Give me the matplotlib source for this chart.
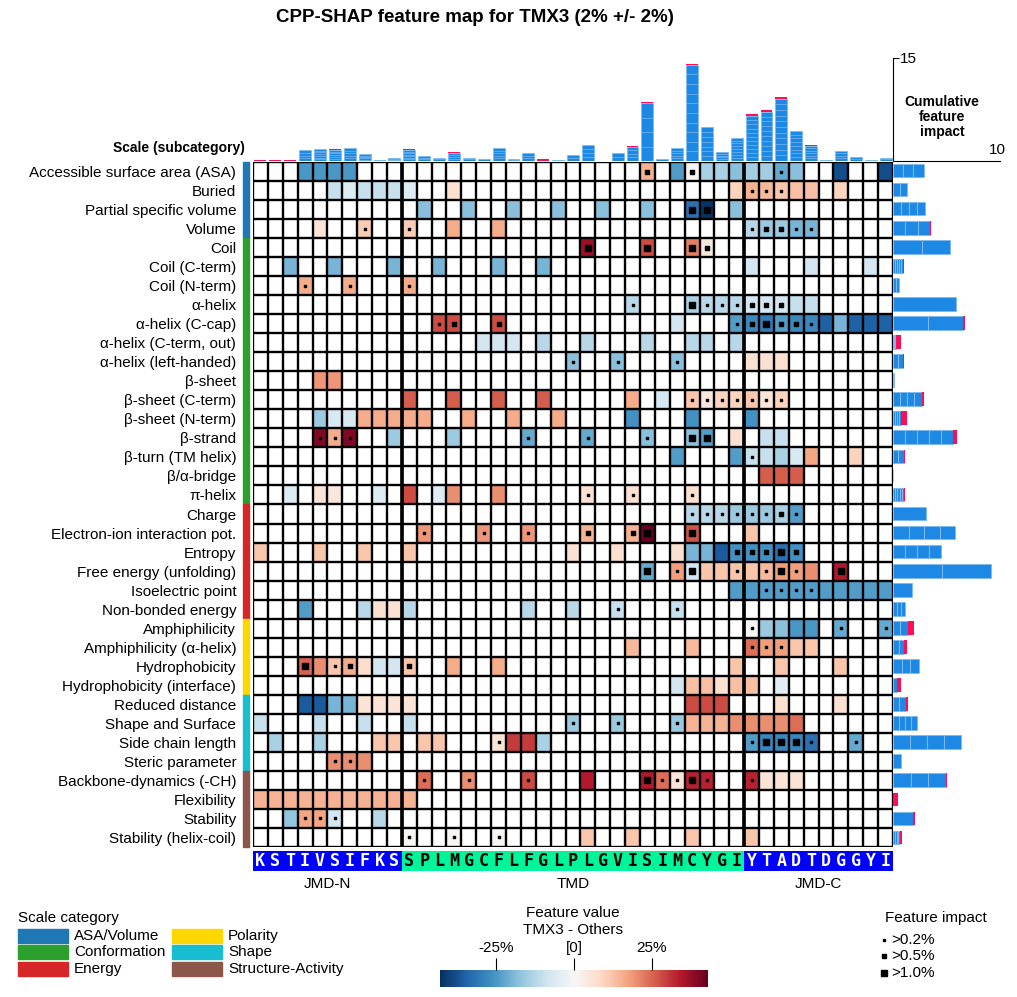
import numpy as np
import matplotlib.pyplot as plt
from matplotlib.colors import Normalize
from matplotlib.cm import ScalarMappable
from matplotlib.patches import Rectangle

plt.rcParams['font.family'] = ['Liberation Sans', 'DejaVu Sans']

title = 'CPP-SHAP feature map for TMX3 (2% +/- 2%)'
jmd_n = 'KSTIVSIFKS'
tmd = 'SPLMGCFLFGLPLGVISIMCYGI'
jmd_c = 'YTADTDGGYI'

scales = ['Accessible surface area (ASA)', 'Buried', 'Partial specific volume', 'Volume',
          'Coil', 'Coil (C-term)', 'Coil (N-term)', 'α-helix', 'α-helix (C-cap)',
          'α-helix (C-term, out)', 'α-helix (left-handed)', 'β-sheet', 'β-sheet (C-term)',
          'β-sheet (N-term)', 'β-strand', 'β-turn (TM helix)', 'β/α-bridge', 'π-helix',
          'Charge', 'Electron-ion interaction pot.', 'Entropy', 'Free energy (unfolding)',
          'Isoelectric point', 'Non-bonded energy', 'Amphiphilicity', 'Amphiphilicity (α-helix)',
          'Hydrophobicity', 'Hydrophobicity (interface)', 'Reduced distance', 'Shape and Surface',
          'Side chain length', 'Steric parameter', 'Backbone-dynamics (-CH)', 'Flexibility',
          'Stability', 'Stability (helix-coil)']

categories = ['ASA/Volume', 'Conformation', 'Energy', 'Polarity', 'Shape', 'Structure-Activity']
cat_colors = ['#1f77b4', '#2ca02c', '#d62728', '#ffd700', '#17becf', '#8c564b']
cat_counts = [4, 14, 6, 4, 4, 4]

# per scale: (position, feature value in %, impact level 0-3)
feat_cells = [
    [(3, -25, 0), (4, -25, 0), (5, -25, 0), (6, -25, 0), (26, 15, 2), (28, -24, 0), (29, 0.5, 2),
     (30, -14, 0), (31, -14, 0), (32, -18, 0), (33, -15, 0), (34, -15, 0), (35, -22, 1), (36, -18, 0),
     (39, -38, 0), (42, -38, 0)],
    [(5, -10, 0), (6, -6, 0), (7, -10, 0), (8, -10, 0), (9, -10, 0), (10, -6, 0), (13, 7, 0),
     (32, 10, 0), (33, 15, 1), (34, 14, 1), (35, 12, 1), (36, 13, 0), (37, 13, 0), (39, 10, 0)],
    [(11, -18, 0), (14, -18, 0), (17, -18, 0), (20, -18, 0), (23, -18, 0), (26, -18, 0),
     (29, -32, 3), (30, -42, 3), (32, -18, 0)],
    [(4, 6, 0), (7, 11, 1), (10, 11, 1), (13, 16, 0), (16, 16, 0), (33, -12, 1), (34, -16, 2),
     (35, -16, 2), (36, -20, 1), (37, -20, 1)],
    [(22, 37, 3), (26, 28, 3), (29, 22, 3), (30, 5, 2)],
    [(2, -20, 0), (5, -20, 0), (9, -20, 0), (12, -20, 0), (16, -20, 0), (19, -20, 0), (33, -8, 0),
     (37, -8, 0), (41, -8, 0)],
    [(3, 16, 1), (6, 16, 1), (10, 16, 1)],
    [(25, -12, 1), (29, -14, 3), (30, -12, 1), (31, -12, 1), (32, -12, 1), (33, -8, 2), (34, -8, 2),
     (35, -8, 2), (36, -10, 0), (37, -10, 0)],
    [(12, 28, 1), (13, 28, 2), (16, 28, 2), (28, -8, 0), (32, -24, 1), (33, -28, 2), (34, -30, 3),
     (35, -24, 2), (36, -28, 2), (37, -28, 1), (38, -35, 0), (39, -20, 0), (40, -35, 0), (41, -35, 0),
     (42, -35, 0)],
    [(15, -8, 0), (16, -8, 0), (17, -8, 0), (19, -12, 0), (22, -12, 0), (26, -12, 0), (29, -12, 0),
     (30, -12, 0), (32, -12, 0)],
    [(21, -18, 1), (24, -18, 1), (28, -18, 1), (33, 7, 0), (34, 7, 0), (35, 7, 0)],
    [(4, 19, 0), (5, 19, 0)],
    [(10, 26, 0), (13, 26, 0), (16, 26, 0), (19, 26, 0), (25, 16, 0), (27, -8, 0), (29, 12, 1),
     (30, 5, 1), (31, 10, 1), (32, 10, 1), (33, 12, 1), (34, 6, 1), (35, 10, 1)],
    [(4, -16, 0), (5, -7, 0), (6, -7, 0), (7, 16, 0), (8, 16, 0), (9, 16, 0), (10, 16, 0), (11, 16, 0),
     (14, 16, 0), (17, 16, 0), (20, 16, 0), (25, -26, 0), (29, -26, 0), (33, -26, 0)],
    [(4, 40, 1), (5, 16, 1), (6, 40, 1), (9, -16, 0), (13, -16, 0), (18, -22, 1), (22, -22, 1),
     (26, -18, 1), (29, -18, 3), (30, -24, 3), (32, 7, 0), (34, -10, 0), (35, -10, 0)],
    [(28, -24, 0), (32, -24, 0), (33, -10, 1), (34, -10, 0), (35, -14, 0), (36, -7, 0), (37, 17, 0),
     (40, 10, 0)],
    [(34, 26, 0), (35, 26, 0), (36, 26, 0)],
    [(2, -6, 0), (4, 6, 0), (5, 5, 0), (8, -6, 0), (10, 28, 0), (12, -6, 0), (13, 20, 0), (16, 20, 0),
     (22, 7, 1), (25, 7, 1), (29, 7, 1)],
    [(29, -12, 1), (30, -12, 1), (31, -12, 1), (32, -16, 1), (33, -16, 1), (34, -16, 1), (35, -14, 2),
     (36, -24, 1)],
    [(11, 19, 1), (15, 19, 1), (18, 19, 1), (22, 15, 2), (25, 15, 2), (26, 43, 3), (29, 27, 3),
     (33, 12, 0)],
    [(0, 12, 0), (4, 12, 0), (7, 12, 0), (10, 12, 0), (21, 7, 0), (24, 7, 0), (28, 7, 0), (29, -20, 0),
     (30, -20, 0), (31, -36, 0), (32, -26, 2), (33, -26, 2), (34, -26, 2), (35, -32, 3), (36, -26, 2)],
    [(26, -22, 3), (28, 18, 1), (29, -8, 3), (30, 12, 0), (31, 12, 0), (32, 12, 1), (33, 12, 0),
     (34, 14, 1), (35, 18, 3), (36, 18, 1), (37, 20, 0), (39, 34, 3)],
    [(32, -24, 0), (33, -24, 0), (34, -24, 1), (35, -24, 1), (36, -24, 1), (37, -24, 1), (38, -24, 0),
     (39, -24, 0), (40, -24, 0), (41, -24, 0), (42, -24, 0)],
    [(3, -24, 0), (7, -12, 0), (8, 7, 0), (9, 7, 0), (10, -12, 0), (18, -12, 0), (21, -12, 0),
     (24, -10, 1), (28, -10, 1)],
    [(33, 0.5, 1), (34, -16, 0), (35, -18, 0), (36, -25, 0), (37, -25, 0), (39, -22, 1), (42, -22, 1)],
    [(25, 14, 0), (29, 14, 0), (33, 24, 1), (34, 18, 1), (35, 18, 1), (36, 12, 0), (37, 12, 0)],
    [(3, 25, 3), (4, 20, 0), (5, 12, 1), (6, 16, 2), (7, 8, 0), (8, -8, 0), (9, -8, 0), (10, 12, 2),
     (13, 16, 0), (16, 16, 0), (32, 12, 0), (35, 12, 0), (39, 12, 0)],
    [(28, -8, 0), (29, 13, 0), (30, 13, 0), (31, 7, 0), (32, 13, 0), (33, 13, 0), (35, -5, 0)],
    [(3, -36, 0), (4, -36, 0), (5, -20, 0), (6, -20, 0), (7, 6, 0), (8, 6, 0), (9, 6, 0), (10, 6, 0),
     (29, 28, 0), (30, 28, 0), (31, 28, 0), (35, 7, 0), (39, 7, 0)],
    [(0, -10, 0), (4, -10, 0), (7, -10, 0), (10, -10, 0), (21, -16, 1), (24, -16, 1), (28, -16, 1),
     (29, 15, 0), (30, 15, 0), (31, 15, 0), (32, 20, 0), (33, 20, 0), (34, 20, 0), (35, 20, 0),
     (36, 24, 0)],
    [(1, -14, 0), (4, -14, 0), (8, 12, 0), (9, 12, 0), (11, 12, 0), (12, 12, 0), (16, 6, 1), (17, 30, 0),
     (18, 30, 0), (19, -14, 0), (33, -24, 1), (34, -28, 3), (35, -28, 3), (36, -28, 3), (37, -32, 1),
     (40, -22, 1)],
    [(5, 20, 1), (6, 20, 1), (7, 20, 0)],
    [(11, 24, 1), (14, 20, 1), (18, 28, 1), (22, 34, 0), (26, 34, 3), (27, 24, 1), (28, 6, 1),
     (29, 33, 3), (30, 33, 1), (33, 33, 1), (34, 6, 0), (35, 6, 0), (36, 6, 0)],
    [(0, 15, 0), (1, 15, 0), (2, 15, 0), (3, 15, 0), (4, 15, 0), (5, 15, 0), (6, 15, 0), (7, 15, 0),
     (8, 15, 0), (9, 15, 0), (10, 15, 0)],
    [(2, -17, 0), (3, 17, 1), (4, 17, 1), (5, -8, 1), (8, -12, 0)],
    [(10, 0.5, 1), (13, 0.5, 1), (16, 0.5, 1), (22, 12, 0), (25, 12, 0), (29, 12, 0), (33, 12, 0)],
]

# cumulative feature impact per residue (top) and per scale (right)
top_total = [0.15, 0.1, 0.15, 1.6, 1.75, 1.75, 1.9, 1.0, 0.2, 0.5, 1.7, 0.75, 0.45, 1.3, 0.5,
             0.35, 1.9, 0.35, 1.15, 0.3, 0.2, 0.9, 2.4, 0.05, 1.15, 2.15, 8.6, 0.35, 1.85, 14.1,
             5.0, 1.3, 3.4, 6.8, 7.4, 9.3, 4.4, 2.3, 0.1, 1.5, 0.6, 0.1, 0.5]
top_pos = [0.15, 0.1, 0.15, 0, 0, 0.1, 0, 0, 0, 0, 0.1, 0, 0, 0.1, 0, 0, 0, 0, 0, 0.3, 0, 0.05,
           0, 0, 0, 0.1, 0.2, 0, 0, 0.1, 0.1, 0, 0, 0.3, 0.2, 0.2, 0, 0.1, 0, 0, 0, 0, 0]
right_total = [2.95, 1.3, 3.1, 3.7, 5.5, 1.1, 0.6, 6.1, 6.9, 0.75, 1.1, 0.07, 2.95, 1.3, 6.2, 1.2,
               0.0, 1.2, 3.15, 6.0, 4.6, 9.4, 1.8, 1.2, 2.0, 1.3, 2.55, 0.8, 1.4, 2.3, 6.5, 0.75,
               5.2, 0.45, 2.1, 0.9]
right_pos = [0, 0, 0, 0.1, 0, 0.1, 0, 0, 0.2, 0.5, 0.1, 0, 0.2, 0.5, 0.4, 0.15, 0, 0.15, 0, 0,
             0, 0, 0, 0, 0.6, 0.2, 0.05, 0.4, 0.15, 0, 0, 0, 0.1, 0.45, 0.15, 0.2]

W, H = 1017, 997
BLUE, PINK, STRIPE = '#1E88E5', '#FF0D57', '#7ab8ee'


def box(x0, y0, x1, y1):
    # pixel box (top-left origin) -> figure coords
    return [x0 / W, 1 - y1 / H, (x1 - x0) / W, (y1 - y0) / H]


seq = jmd_n + tmd + jmd_c
n_pos, n_rows = len(seq), len(scales)

mat = np.zeros((n_rows, n_pos))
imp = np.zeros((n_rows, n_pos), dtype=int)
for r, row in enumerate(feat_cells):
    for p, v, d in row:
        mat[r, p] = v
        imp[r, p] = d

cmap = plt.get_cmap('RdBu_r')
norm = Normalize(-43, 43)

fig = plt.figure(figsize=(W / 100, H / 100), dpi=100)

# heatmap
ax = fig.add_axes(box(253, 162, 893, 847))
ax.pcolormesh(np.arange(n_pos + 1), np.arange(n_rows + 1), np.ma.masked_equal(mat, 0),
              cmap=cmap, norm=norm, edgecolors='none')
for x in range(n_pos + 1):
    ax.axvline(x, color='black', lw=1.7)
for y in range(n_rows + 1):
    ax.axhline(y, color='black', lw=1.7)
ax.axvline(len(jmd_n), color='black', lw=2.6)
ax.axvline(len(jmd_n) + len(tmd), color='black', lw=2.6)
for level, size in [(1, 3), (2, 10), (3, 20)]:
    rr, cc = np.nonzero(imp == level)
    ax.scatter(cc + 0.5, rr + 0.5, s=size, marker='s', color='black', zorder=5)
ax.set_xlim(0, n_pos)
ax.set_ylim(n_rows, 0)
ax.set_xticks([])
ax.set_yticks(np.arange(n_rows) + 0.5)
ax.set_yticklabels(scales, fontsize=11)
ax.tick_params(axis='y', length=0, pad=12)
for s in ax.spines.values():
    s.set_visible(False)

# category strip
start = 0
for col, cnt in zip(cat_colors, cat_counts):
    ax.add_patch(Rectangle((-0.68, start), 0.42, cnt, color=col, clip_on=False))
    start += cnt

# top cumulative bars (faint stripes between features)
axt = fig.add_axes(box(253, 58, 893, 161))
for i in range(n_pos):
    n_seg = max(1, (int(np.count_nonzero(mat[:, i])) + 1) // 2)
    neg = top_total[i] - top_pos[i]
    axt.bar(i + 0.5, neg, width=0.8, color=BLUE, edgecolor=STRIPE, linewidth=0.5)
    for k in range(1, n_seg):
        axt.plot([i + 0.1, i + 0.9], [k * neg / n_seg] * 2, color=STRIPE, lw=0.5)
    if top_pos[i] > 0:
        axt.bar(i + 0.5, top_pos[i], bottom=neg, width=0.8, color=PINK, linewidth=0)
axt.set_xlim(0, n_pos)
axt.set_ylim(0, 15)
axt.set_xticks([])
axt.yaxis.tick_right()
axt.set_yticks([15])
axt.tick_params(axis='y', labelsize=11, length=4, pad=1)
for k in ['top', 'left', 'bottom']:
    axt.spines[k].set_visible(False)
axt.patch.set_alpha(0)

# right cumulative bars
axr = fig.add_axes(box(893, 161, 1000, 847))
for r in range(n_rows):
    runs = int(np.sum(np.diff(np.r_[0, (mat[r] != 0).astype(int)]) == 1))
    n_seg = max(1, (runs + 1) // 2)
    neg = right_total[r] - right_pos[r]
    axr.barh(r + 0.5, neg, height=0.72, color=BLUE, edgecolor=STRIPE, linewidth=0.5)
    for k in range(1, n_seg):
        axr.plot([k * neg / n_seg] * 2, [r + 0.14, r + 0.86], color=STRIPE, lw=0.8)
    if right_pos[r] > 0:
        axr.barh(r + 0.5, right_pos[r], left=neg, height=0.72, color=PINK, linewidth=0)
axr.set_ylim(n_rows, 0)
axr.set_xlim(0, 10.3)
axr.set_yticks([])
axr.xaxis.tick_top()
axr.set_xticks([10])
axr.tick_params(axis='x', labelsize=11, length=0, pad=3)
for k in ['right', 'left', 'bottom']:
    axr.spines[k].set_visible(False)
axr.patch.set_alpha(0)

# sequence band
axs = fig.add_axes(box(253, 851, 893, 871))
for i, aa in enumerate(seq):
    in_tmd = len(jmd_n) <= i < len(jmd_n) + len(tmd)
    axs.add_patch(Rectangle((i, 0), 1, 1, color='#00F59B' if in_tmd else '#0000FF', lw=0))
    axs.text(i + 0.5, 0.5, aa, ha='center', va='center', fontsize=12, fontweight='bold',
             family='DejaVu Sans Mono', color='black' if in_tmd else 'white')
axs.set_xlim(0, n_pos)
axs.set_ylim(0, 1)
axs.axis('off')

for label, x in [('JMD-N', 327), ('TMD', 573), ('JMD-C', 818)]:
    fig.text(x / W, 1 - 884 / H, label, ha='center', va='center', fontsize=11)

fig.text(475 / W, 1 - 18 / H, title, ha='center', va='center', fontsize=13.5, fontweight='bold')
fig.text(245 / W, 1 - 148 / H, 'Scale (subcategory)', ha='right', va='center', fontsize=10,
         fontweight='bold')
fig.text(942 / W, 1 - 117 / H, 'Cumulative\nfeature\nimpact', ha='center', va='center',
         fontsize=10, fontweight='bold', linespacing=1.1)

# scale category legend
fig.text(18 / W, 1 - 918 / H, 'Scale category', ha='left', va='center', fontsize=11)
for i, (cat, col) in enumerate(zip(categories, cat_colors)):
    x0 = 18 if i < 3 else 172
    yc = [936, 952, 969][i % 3]
    fig.patches.append(Rectangle((x0 / W, 1 - (yc + 7) / H), 50 / W, 14 / H, color=col,
                                 transform=fig.transFigure, figure=fig))
    fig.text((x0 + 56) / W, 1 - yc / H, cat, ha='left', va='center', fontsize=11)

# colorbar
fig.text(573 / W, 1 - 913 / H, 'Feature value', ha='center', va='center', fontsize=11)
fig.text(573 / W, 1 - 930 / H, 'TMX3 - Others', ha='center', va='center', fontsize=11)
cax = fig.add_axes(box(440, 970, 708, 987))
cb = fig.colorbar(ScalarMappable(norm=norm, cmap=cmap), cax=cax, orientation='horizontal',
                  ticks=[-25, 0, 25])
cb.outline.set_visible(False)
cax.xaxis.set_ticks_position('top')
cax.set_xticklabels(['-25%', '[0]', '25%'])
cax.tick_params(axis='x', labelsize=11, length=9, width=0.8, pad=2)

# feature impact legend
fig.text(936 / W, 1 - 918 / H, 'Feature impact', ha='center', va='center', fontsize=11)
for (lab, yc), size in zip([('>0.2%', 940), ('>0.5%', 956), ('>1.0%', 973)], [3, 10, 20]):
    fig.lines.append(plt.Line2D([884 / W], [1 - yc / H], marker='s', color='black',
                                markersize=np.sqrt(size), linestyle='none',
                                transform=fig.transFigure, figure=fig))
    fig.text(891 / W, 1 - yc / H, lab, ha='left', va='center', fontsize=11)

fig.savefig('out.png', dpi=100)
